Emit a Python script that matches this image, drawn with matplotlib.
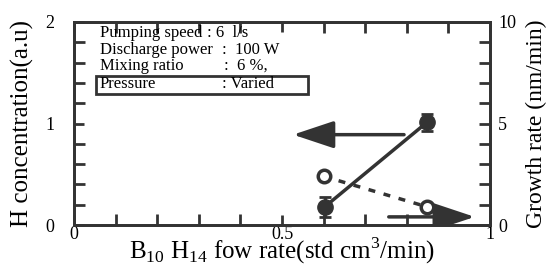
import matplotlib
matplotlib.use('agg')
import matplotlib.pyplot as plt
from matplotlib.patches import Rectangle, FancyArrowPatch

plt.rcParams['font.family'] = ['Liberation Serif', 'DejaVu Serif']
plt.rcParams['mathtext.fontset'] = 'custom'
plt.rcParams['mathtext.rm'] = 'Liberation Serif'

# data
flow = [0.603, 0.848]
h_conc = [0.18, 1.01]
h_err = [0.1, 0.08]
flow_gr = [0.60, 0.848]
growth = [2.4, 0.9]
gr_err = [0.2, 0.2]

cond_labels = ['Pumping speed', 'Discharge power', 'Mixing ratio', 'Pressure']
cond_values = [': 6  l/s', ':  100 W', ':  6 %,', ': Varied']

W, H = 549, 265
fig = plt.figure(figsize=(W / 100, H / 100), dpi=100)
ax = fig.add_axes([74 / W, 1 - 225 / H, 416 / W, 203 / H])
ax2 = ax.twinx()

# H concentration (left axis)
ax.errorbar(flow, h_conc, yerr=h_err, fmt='o', color='#333333', ms=11,
            capsize=4, elinewidth=2, capthick=2, zorder=3)
ax.plot(flow, h_conc, '-', color='#333333', lw=2.5)

# growth rate (right axis)
ax2.errorbar(flow_gr, growth, yerr=gr_err, fmt='o', mfc='white', mec='#333333',
             mew=2.5, ms=9, color='#333333', capsize=3, elinewidth=1.5, zorder=3)
ax2.plot(flow_gr, growth, linestyle=(0, (2, 2.5)), color='#333333', lw=2.5)

ax.set_xlim(0, 1)
ax.set_ylim(0, 2)
ax2.set_ylim(0, 10)
ax.set_xticks([0, 0.5, 1])
ax.set_xticklabels(['0', '0.5', '1'])
ax.set_xticks([i / 10 for i in range(11)], minor=True)
ax.set_yticks([0, 1, 2])
ax.set_yticks([i / 5 for i in range(11)], minor=True)
ax2.set_yticks([0, 5, 10])
ax2.set_yticks(range(11), minor=True)

for a in (ax, ax2):
    for s in a.spines.values():
        s.set_linewidth(2)
        s.set_color('#333333')
ax.tick_params(which='both', direction='in', top=True, width=2, color='#333333',
               labelsize=13, pad=3)
ax.tick_params(which='major', length=7)
ax.tick_params(which='minor', length=8)
ax.tick_params(axis='y', pad=14)
ax.tick_params(axis='x', pad=1)
ax2.tick_params(which='both', direction='in', width=2, color='#333333',
                labelsize=13, length=8, pad=6)

ax.set_ylabel('H concentration(a.u)', fontsize=18, labelpad=8)
ax2.set_ylabel('Growth rate (nm/min)', fontsize=17, labelpad=7)
ax.set_xlabel(r'B$_{10}$ H$_{14}$ fow rate(std cm$^{3}$/min)', fontsize=18, labelpad=-6)

# arrows pointing to the axes
ax.add_patch(FancyArrowPatch((0.80, 0.89), (0.52, 0.89), arrowstyle='-|>,head_length=1.8,head_width=0.6',
                             mutation_scale=14, lw=2.5, color='#333333'))
ax2.add_patch(FancyArrowPatch((0.75, 0.4), (0.97, 0.4), arrowstyle='-|>,head_length=1.8,head_width=0.6',
                              mutation_scale=14, lw=2.5, color='#333333'))

# conditions text
ys = [33, 50, 66, 84]
xv = [207, 222, 224, 222]
for lab, val, y, x in zip(cond_labels, cond_values, ys, xv):
    fig.text(100 / W, 1 - y / H, lab, fontsize=12, va='center', ha='left')
    fig.text(x / W, 1 - y / H, val, fontsize=12, va='center', ha='left')
fig.add_artist(Rectangle((96 / W, 1 - 94 / H), 212 / W, 18 / H, transform=fig.transFigure,
                         fill=False, lw=2, edgecolor='#333333'))

fig.savefig('out.png', dpi=100)
